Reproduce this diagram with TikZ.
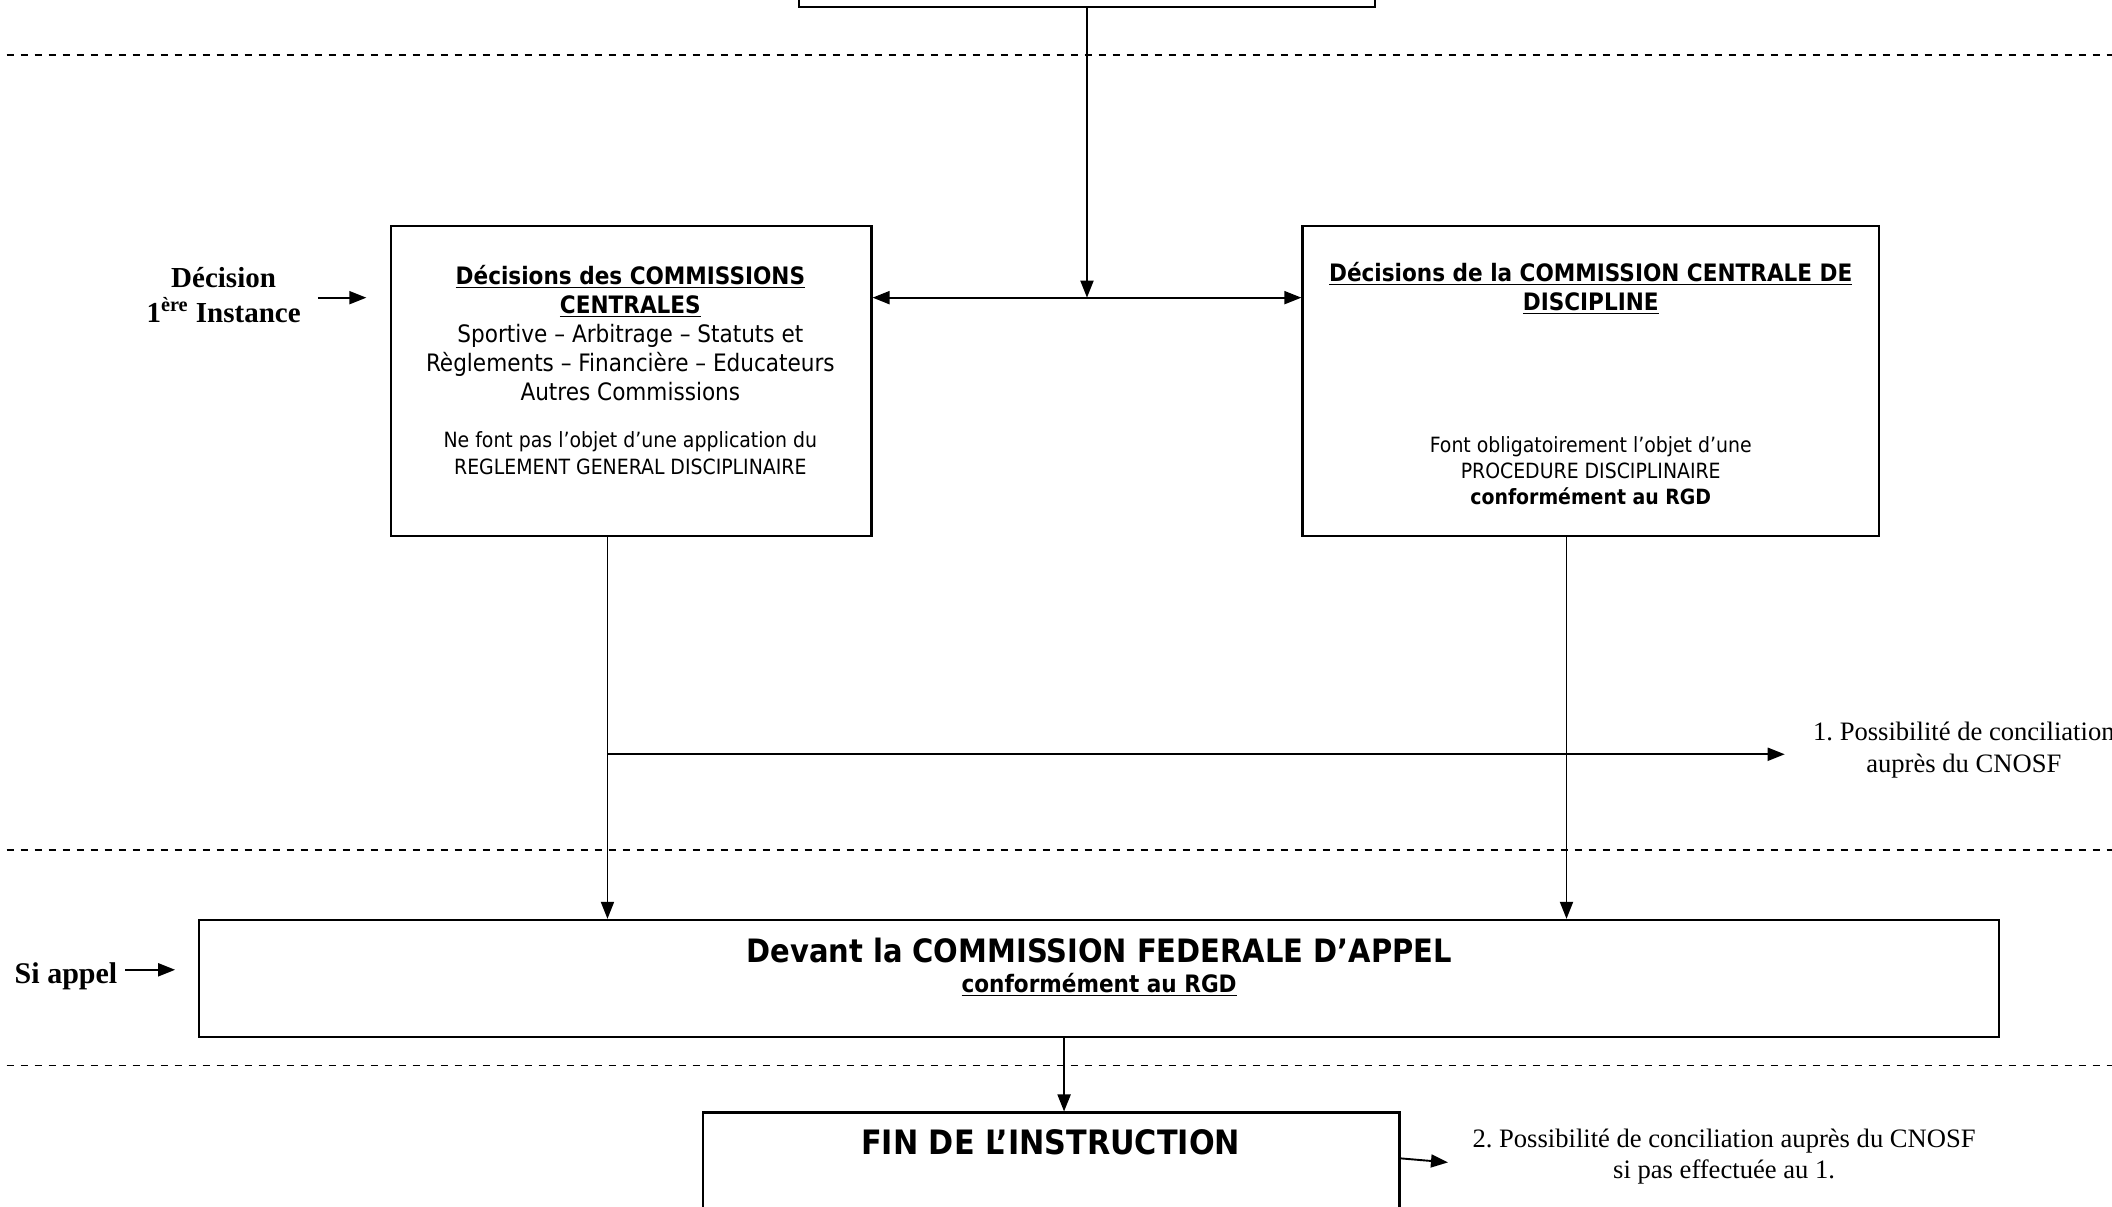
\documentclass[tikz,border=0pt]{standalone}
\usepackage{fontspec}
\setmainfont{Liberation Serif}
\newfontfamily\tah{DejaVu Sans Condensed}
\usetikzlibrary{arrows.meta,fit}
\frenchspacing
\tikzset{
  box/.style={draw, line width=1.1pt, inner sep=0pt},
  arr/.style={line width=0.95pt, -{Triangle[length=8.5pt,width=6.5pt]}},
  arrtwo/.style={line width=0.95pt, {Triangle[length=8.5pt,width=6.5pt]}-{Triangle[length=8.5pt,width=6.5pt]}},
  sep/.style={line width=0.8pt, dash pattern=on 3.5pt off 3.5pt},
  txt/.style={inner sep=0pt, align=center},
  lab/.style={inner sep=0pt, align=center},
}
\begin{document}
\begin{tikzpicture}[x=0.6735pt,y=-0.6735pt]
\useasboundingbox (0,0) rectangle (1568,896);
\clip (0,0) rectangle (1568,896);
% separators
\draw[sep] (5,41) -- (1568,41);
\draw[sep] (5,631) -- (1568,631);
\draw[sep] (5,791) -- (1568,791);
% boxes
\node[box, fit={(593,-60) (1021,5)}] (top) {};
\node[box, fit={(290,168) (647,398)}] (b1) {};
\node[box, fit={(967,168) (1395,398)}] (b2) {};
\node[box, fit={(148,683) (1484,770)}] (b3) {};
\node[box, fit={(522,826) (1039,940)}] (b4) {};
% box texts
\node[txt, font={\tah\fontsize{12}{14.5}\selectfont}] (t1a) at (468,247)
  {\textbf{\underline{Décisions des COMMISSIONS}}\\\textbf{\underline{CENTRALES}}\\Sportive – Arbitrage – Statuts et\\Règlements – Financière – Educateurs\\Autres Commissions};
\node[txt, font={\tah\fontsize{10.5}{13.1}\selectfont}] (t1b) at (468,336.5)
  {Ne font pas l’objet d’une application du\\REGLEMENT GENERAL DISCIPLINAIRE};
\node[txt, font={\tah\fontsize{12}{14.5}\selectfont\bfseries}] (t2a) at (1181,214)
  {\underline{Décisions de la COMMISSION CENTRALE DE}\\\underline{DISCIPLINE}};
\node[txt, font={\tah\fontsize{10.5}{13.1}\selectfont}] (t2b) at (1181,349.5)
  {Font obligatoirement l’objet d’une\\PROCEDURE DISCIPLINAIRE\\\textbf{conformément au RGD}};
\node[txt, font={\tah\fontsize{16.1}{19}\selectfont\bfseries}] (t3a) at (816,706)
  {Devant la COMMISSION FEDERALE D’APPEL};
\node[txt, font={\tah\fontsize{12}{14}\selectfont\bfseries}] (t3b) at (816,731)
  {\underline{conformément au RGD}};
\node[txt, font={\tah\fontsize{16.8}{19}\selectfont\bfseries}] (t4) at (780,848)
  {FIN DE L’INSTRUCTION};
% side labels
\node[lab, font={\fontsize{14.5}{17.2}\selectfont\bfseries}] (lab1) at (166,219)
  {Décision\\1\textsuperscript{ère} Instance};
\node[lab, font={\fontsize{15}{17}\selectfont\bfseries}] (siap) at (49,725) {Si appel};
\node[lab, font={\fontsize{13.3}{16.2}\selectfont}] (nr1) at (1458,557)
  {1. Possibilité de conciliation\\auprès du CNOSF};
\node[lab, font={\fontsize{13.3}{15.5}\selectfont}] (nr2) at (1280,859)
  {2. Possibilité de conciliation auprès du CNOSF\\si pas effectuée au 1.};
% connectors
\coordinate (j) at (807,221);
\draw[arr] (top.south -| j) -- (j);
\draw[arrtwo] (b1.east |- j) -- (b2.west |- j);
\coordinate (c1) at (451,560);
\coordinate (r1) at (1325,560);
\draw[arr] (b1.south -| c1) -- (b3.north -| c1);
\draw[arr] (c1) -- (r1);
\coordinate (c2) at (1163,560);
\draw[arr] (b2.south -| c2) -- (b3.north -| c2);
\coordinate (c3) at (790,780);
\draw[arr] (b3.south -| c3) -- (b4.north -| c3);
\coordinate (s4) at (1039,860);
\coordinate (r2) at (1075,863);
\draw[arr] (b4.east |- s4) -- (r2);
\coordinate (l1s) at (236,221);
\coordinate (l1e) at (272,221);
\draw[arr] (l1s) -- (l1e);
\coordinate (l2s) at (93,720);
\coordinate (l2e) at (130,720);
\draw[arr] (l2s) -- (l2e);
\end{tikzpicture}
\end{document}
